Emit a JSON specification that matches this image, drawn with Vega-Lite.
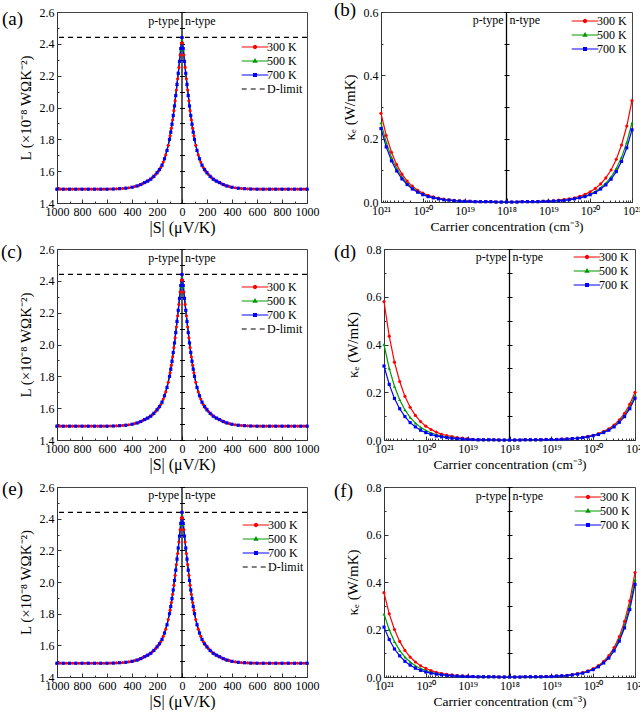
{
"$schema": "https://vega.github.io/schema/vega-lite/v6.json",
"padding": {"left": 0, "top": 0, "right": 0, "bottom": 0},
"config": {
  "font": "Liberation Serif",
  "view": {"stroke": "#444", "strokeWidth": 1},
  "axis": {"labelFont": "Liberation Serif", "labelFontSize": 12, "labelColor": "#000", "titleFont": "Liberation Serif", "titleFontSize": 15, "titleFontWeight": "normal", "titleColor": "#000", "domainColor": "#333", "tickColor": "#333", "grid": false, "labelFlush": false, "labelOverlap": false},
  "legend": {"orient": "none", "title": null, "padding": 0, "labelFont": "Liberation Serif", "labelFontSize": 12, "labelColor": "#000", "symbolSize": 196, "symbolOffset": 6, "labelOffset": 4, "rowPadding": 0, "symbolStrokeWidth": 1.2}
},
"datasets": {
"one": [{}],
"L": [
{"T":"300 K","S":-1000,"L":1.487},{"T":"300 K","S":-975,"L":1.487},{"T":"300 K","S":-925,"L":1.487},{"T":"300 K","S":-875,"L":1.487},{"T":"300 K","S":-825,"L":1.487},{"T":"300 K","S":-775,"L":1.487},{"T":"300 K","S":-725,"L":1.487},{"T":"300 K","S":-675,"L":1.487},{"T":"300 K","S":-625,"L":1.487},{"T":"300 K","S":-575,"L":1.488},{"T":"300 K","S":-525,"L":1.489},{"T":"300 K","S":-475,"L":1.491},{"T":"300 K","S":-425,"L":1.496},{"T":"300 K","S":-380,"L":1.503},{"T":"300 K","S":-345,"L":1.511},{"T":"300 K","S":-315,"L":1.522},{"T":"300 K","S":-287,"L":1.533},{"T":"300 K","S":-262,"L":1.544},{"T":"300 K","S":-237,"L":1.559},{"T":"300 K","S":-212,"L":1.579},{"T":"300 K","S":-190,"L":1.6},{"T":"300 K","S":-170,"L":1.623},{"T":"300 K","S":-150,"L":1.657},{"T":"300 K","S":-130,"L":1.702},{"T":"300 K","S":-110,"L":1.763},{"T":"300 K","S":-95,"L":1.822},{"T":"300 K","S":-85,"L":1.87},{"T":"300 K","S":-75,"L":1.922},{"T":"300 K","S":-65,"L":1.98},{"T":"300 K","S":-55,"L":2.042},{"T":"300 K","S":-45,"L":2.11},{"T":"300 K","S":-35,"L":2.18},{"T":"300 K","S":-25,"L":2.252},{"T":"300 K","S":-15,"L":2.33},{"T":"300 K","S":-5,"L":2.405},{"T":"300 K","S":0,"L":2.44},
{"T":"300 K","S":5,"L":2.405},{"T":"300 K","S":15,"L":2.33},{"T":"300 K","S":25,"L":2.252},{"T":"300 K","S":35,"L":2.18},{"T":"300 K","S":45,"L":2.11},{"T":"300 K","S":55,"L":2.042},{"T":"300 K","S":65,"L":1.98},{"T":"300 K","S":75,"L":1.922},{"T":"300 K","S":85,"L":1.87},{"T":"300 K","S":95,"L":1.822},{"T":"300 K","S":110,"L":1.763},{"T":"300 K","S":130,"L":1.702},{"T":"300 K","S":150,"L":1.657},{"T":"300 K","S":170,"L":1.623},{"T":"300 K","S":190,"L":1.6},{"T":"300 K","S":212,"L":1.579},{"T":"300 K","S":237,"L":1.559},{"T":"300 K","S":262,"L":1.544},{"T":"300 K","S":287,"L":1.533},{"T":"300 K","S":315,"L":1.522},{"T":"300 K","S":345,"L":1.511},{"T":"300 K","S":380,"L":1.503},{"T":"300 K","S":425,"L":1.496},{"T":"300 K","S":475,"L":1.491},{"T":"300 K","S":525,"L":1.489},{"T":"300 K","S":575,"L":1.488},{"T":"300 K","S":625,"L":1.487},{"T":"300 K","S":675,"L":1.487},{"T":"300 K","S":725,"L":1.487},{"T":"300 K","S":775,"L":1.487},{"T":"300 K","S":825,"L":1.487},{"T":"300 K","S":875,"L":1.487},{"T":"300 K","S":925,"L":1.487},{"T":"300 K","S":975,"L":1.487},{"T":"300 K","S":1000,"L":1.487},
{"T":"500 K","S":-1000,"L":1.487},{"T":"500 K","S":-950,"L":1.487},{"T":"500 K","S":-900,"L":1.487},{"T":"500 K","S":-850,"L":1.487},{"T":"500 K","S":-800,"L":1.487},{"T":"500 K","S":-750,"L":1.487},{"T":"500 K","S":-700,"L":1.487},{"T":"500 K","S":-650,"L":1.487},{"T":"500 K","S":-600,"L":1.487},{"T":"500 K","S":-550,"L":1.488},{"T":"500 K","S":-500,"L":1.49},{"T":"500 K","S":-450,"L":1.493},{"T":"500 K","S":-400,"L":1.499},{"T":"500 K","S":-360,"L":1.507},{"T":"500 K","S":-330,"L":1.516},{"T":"500 K","S":-300,"L":1.528},{"T":"500 K","S":-275,"L":1.538},{"T":"500 K","S":-250,"L":1.55},{"T":"500 K","S":-225,"L":1.568},{"T":"500 K","S":-200,"L":1.59},{"T":"500 K","S":-180,"L":1.61},{"T":"500 K","S":-160,"L":1.638},{"T":"500 K","S":-140,"L":1.678},{"T":"500 K","S":-120,"L":1.73},{"T":"500 K","S":-100,"L":1.8},{"T":"500 K","S":-90,"L":1.845},{"T":"500 K","S":-80,"L":1.895},{"T":"500 K","S":-70,"L":1.95},{"T":"500 K","S":-60,"L":2.01},{"T":"500 K","S":-50,"L":2.075},{"T":"500 K","S":-40,"L":2.145},{"T":"500 K","S":-30,"L":2.215},{"T":"500 K","S":-20,"L":2.29},{"T":"500 K","S":-10,"L":2.36},{"T":"500 K","S":0,"L":2.425},
{"T":"500 K","S":10,"L":2.36},{"T":"500 K","S":20,"L":2.29},{"T":"500 K","S":30,"L":2.215},{"T":"500 K","S":40,"L":2.145},{"T":"500 K","S":50,"L":2.075},{"T":"500 K","S":60,"L":2.01},{"T":"500 K","S":70,"L":1.95},{"T":"500 K","S":80,"L":1.895},{"T":"500 K","S":90,"L":1.845},{"T":"500 K","S":100,"L":1.8},{"T":"500 K","S":120,"L":1.73},{"T":"500 K","S":140,"L":1.678},{"T":"500 K","S":160,"L":1.638},{"T":"500 K","S":180,"L":1.61},{"T":"500 K","S":200,"L":1.59},{"T":"500 K","S":225,"L":1.568},{"T":"500 K","S":250,"L":1.55},{"T":"500 K","S":275,"L":1.538},{"T":"500 K","S":300,"L":1.528},{"T":"500 K","S":330,"L":1.516},{"T":"500 K","S":360,"L":1.507},{"T":"500 K","S":400,"L":1.499},{"T":"500 K","S":450,"L":1.493},{"T":"500 K","S":500,"L":1.49},{"T":"500 K","S":550,"L":1.488},{"T":"500 K","S":600,"L":1.487},{"T":"500 K","S":650,"L":1.487},{"T":"500 K","S":700,"L":1.487},{"T":"500 K","S":750,"L":1.487},{"T":"500 K","S":800,"L":1.487},{"T":"500 K","S":850,"L":1.487},{"T":"500 K","S":900,"L":1.487},{"T":"500 K","S":950,"L":1.487},{"T":"500 K","S":1000,"L":1.487},
{"T":"700 K","S":-1000,"L":1.487},{"T":"700 K","S":-950,"L":1.487},{"T":"700 K","S":-900,"L":1.487},{"T":"700 K","S":-850,"L":1.487},{"T":"700 K","S":-800,"L":1.487},{"T":"700 K","S":-750,"L":1.487},{"T":"700 K","S":-700,"L":1.487},{"T":"700 K","S":-650,"L":1.487},{"T":"700 K","S":-600,"L":1.487},{"T":"700 K","S":-550,"L":1.488},{"T":"700 K","S":-500,"L":1.49},{"T":"700 K","S":-450,"L":1.493},{"T":"700 K","S":-400,"L":1.499},{"T":"700 K","S":-360,"L":1.507},{"T":"700 K","S":-330,"L":1.516},{"T":"700 K","S":-300,"L":1.528},{"T":"700 K","S":-275,"L":1.538},{"T":"700 K","S":-250,"L":1.55},{"T":"700 K","S":-225,"L":1.568},{"T":"700 K","S":-200,"L":1.59},{"T":"700 K","S":-180,"L":1.61},{"T":"700 K","S":-160,"L":1.638},{"T":"700 K","S":-140,"L":1.678},{"T":"700 K","S":-120,"L":1.73},{"T":"700 K","S":-100,"L":1.8},{"T":"700 K","S":-90,"L":1.845},{"T":"700 K","S":-80,"L":1.895},{"T":"700 K","S":-70,"L":1.95},{"T":"700 K","S":-60,"L":2.01},{"T":"700 K","S":-50,"L":2.075},{"T":"700 K","S":-40,"L":2.145},{"T":"700 K","S":-30,"L":2.215},{"T":"700 K","S":-20,"L":2.29},{"T":"700 K","S":-10,"L":2.37},{"T":"700 K","S":0,"L":2.44},
{"T":"700 K","S":10,"L":2.37},{"T":"700 K","S":20,"L":2.29},{"T":"700 K","S":30,"L":2.215},{"T":"700 K","S":40,"L":2.145},{"T":"700 K","S":50,"L":2.075},{"T":"700 K","S":60,"L":2.01},{"T":"700 K","S":70,"L":1.95},{"T":"700 K","S":80,"L":1.895},{"T":"700 K","S":90,"L":1.845},{"T":"700 K","S":100,"L":1.8},{"T":"700 K","S":120,"L":1.73},{"T":"700 K","S":140,"L":1.678},{"T":"700 K","S":160,"L":1.638},{"T":"700 K","S":180,"L":1.61},{"T":"700 K","S":200,"L":1.59},{"T":"700 K","S":225,"L":1.568},{"T":"700 K","S":250,"L":1.55},{"T":"700 K","S":275,"L":1.538},{"T":"700 K","S":300,"L":1.528},{"T":"700 K","S":330,"L":1.516},{"T":"700 K","S":360,"L":1.507},{"T":"700 K","S":400,"L":1.499},{"T":"700 K","S":450,"L":1.493},{"T":"700 K","S":500,"L":1.49},{"T":"700 K","S":550,"L":1.488},{"T":"700 K","S":600,"L":1.487},{"T":"700 K","S":650,"L":1.487},{"T":"700 K","S":700,"L":1.487},{"T":"700 K","S":750,"L":1.487},{"T":"700 K","S":800,"L":1.487},{"T":"700 K","S":850,"L":1.487},{"T":"700 K","S":900,"L":1.487},{"T":"700 K","S":950,"L":1.487},{"T":"700 K","S":1000,"L":1.487}
],
"K": [
{"p":"b","T":"300 K","x":-3,"k":0.28},{"p":"b","T":"300 K","x":-2.875,"k":0.21},{"p":"b","T":"300 K","x":-2.75,"k":0.157},{"p":"b","T":"300 K","x":-2.625,"k":0.118},{"p":"b","T":"300 K","x":-2.5,"k":0.088},{"p":"b","T":"300 K","x":-2.375,"k":0.066},{"p":"b","T":"300 K","x":-2.25,"k":0.05},{"p":"b","T":"300 K","x":-2.125,"k":0.037},{"p":"b","T":"300 K","x":-2,"k":0.028},{"p":"b","T":"300 K","x":-1.875,"k":0.021},{"p":"b","T":"300 K","x":-1.75,"k":0.016},{"p":"b","T":"300 K","x":-1.625,"k":0.012},{"p":"b","T":"300 K","x":-1.5,"k":0.009},{"p":"b","T":"300 K","x":-1.375,"k":0.007},{"p":"b","T":"300 K","x":-1.25,"k":0.005},{"p":"b","T":"300 K","x":-1.125,"k":0.004},{"p":"b","T":"300 K","x":-1,"k":0.003},
{"p":"b","T":"300 K","x":-0.875,"k":0.002},{"p":"b","T":"300 K","x":-0.75,"k":0.001},{"p":"b","T":"300 K","x":-0.625,"k":0.001},{"p":"b","T":"300 K","x":-0.5,"k":0.001},{"p":"b","T":"300 K","x":-0.375,"k":0.001},{"p":"b","T":"300 K","x":-0.25,"k":0},{"p":"b","T":"300 K","x":-0.125,"k":0},{"p":"b","T":"300 K","x":0,"k":0},{"p":"b","T":"300 K","x":0.125,"k":0},{"p":"b","T":"300 K","x":0.25,"k":0},{"p":"b","T":"300 K","x":0.375,"k":0.001},{"p":"b","T":"300 K","x":0.5,"k":0.001},{"p":"b","T":"300 K","x":0.625,"k":0.001},{"p":"b","T":"300 K","x":0.75,"k":0.001},{"p":"b","T":"300 K","x":0.875,"k":0.002},
{"p":"b","T":"300 K","x":1,"k":0.003},{"p":"b","T":"300 K","x":1.125,"k":0.004},{"p":"b","T":"300 K","x":1.25,"k":0.006},{"p":"b","T":"300 K","x":1.375,"k":0.008},{"p":"b","T":"300 K","x":1.5,"k":0.01},{"p":"b","T":"300 K","x":1.625,"k":0.013},{"p":"b","T":"300 K","x":1.75,"k":0.018},{"p":"b","T":"300 K","x":1.875,"k":0.024},{"p":"b","T":"300 K","x":2,"k":0.032},{"p":"b","T":"300 K","x":2.125,"k":0.043},{"p":"b","T":"300 K","x":2.25,"k":0.057},{"p":"b","T":"300 K","x":2.375,"k":0.076},{"p":"b","T":"300 K","x":2.5,"k":0.101},{"p":"b","T":"300 K","x":2.625,"k":0.135},{"p":"b","T":"300 K","x":2.75,"k":0.18},{"p":"b","T":"300 K","x":2.875,"k":0.24},{"p":"b","T":"300 K","x":3,"k":0.32},
{"p":"b","T":"500 K","x":-3,"k":0.25},{"p":"b","T":"500 K","x":-2.875,"k":0.188},{"p":"b","T":"500 K","x":-2.75,"k":0.141},{"p":"b","T":"500 K","x":-2.625,"k":0.106},{"p":"b","T":"500 K","x":-2.5,"k":0.079},{"p":"b","T":"500 K","x":-2.375,"k":0.059},{"p":"b","T":"500 K","x":-2.25,"k":0.045},{"p":"b","T":"500 K","x":-2.125,"k":0.033},{"p":"b","T":"500 K","x":-2,"k":0.025},{"p":"b","T":"500 K","x":-1.875,"k":0.019},{"p":"b","T":"500 K","x":-1.75,"k":0.014},{"p":"b","T":"500 K","x":-1.625,"k":0.011},{"p":"b","T":"500 K","x":-1.5,"k":0.008},{"p":"b","T":"500 K","x":-1.375,"k":0.006},{"p":"b","T":"500 K","x":-1.25,"k":0.005},{"p":"b","T":"500 K","x":-1.125,"k":0.003},{"p":"b","T":"500 K","x":-1,"k":0.003},
{"p":"b","T":"500 K","x":-0.875,"k":0.002},{"p":"b","T":"500 K","x":-0.75,"k":0.001},{"p":"b","T":"500 K","x":-0.625,"k":0.001},{"p":"b","T":"500 K","x":-0.5,"k":0.001},{"p":"b","T":"500 K","x":-0.375,"k":0.001},{"p":"b","T":"500 K","x":-0.25,"k":0},{"p":"b","T":"500 K","x":-0.125,"k":0},{"p":"b","T":"500 K","x":0,"k":0},{"p":"b","T":"500 K","x":0.125,"k":0},{"p":"b","T":"500 K","x":0.25,"k":0},{"p":"b","T":"500 K","x":0.375,"k":0.001},{"p":"b","T":"500 K","x":0.5,"k":0.001},{"p":"b","T":"500 K","x":0.625,"k":0.001},{"p":"b","T":"500 K","x":0.75,"k":0.001},{"p":"b","T":"500 K","x":0.875,"k":0.002},
{"p":"b","T":"500 K","x":1,"k":0.003},{"p":"b","T":"500 K","x":1.125,"k":0.003},{"p":"b","T":"500 K","x":1.25,"k":0.005},{"p":"b","T":"500 K","x":1.375,"k":0.006},{"p":"b","T":"500 K","x":1.5,"k":0.008},{"p":"b","T":"500 K","x":1.625,"k":0.011},{"p":"b","T":"500 K","x":1.75,"k":0.014},{"p":"b","T":"500 K","x":1.875,"k":0.019},{"p":"b","T":"500 K","x":2,"k":0.025},{"p":"b","T":"500 K","x":2.125,"k":0.033},{"p":"b","T":"500 K","x":2.25,"k":0.045},{"p":"b","T":"500 K","x":2.375,"k":0.059},{"p":"b","T":"500 K","x":2.5,"k":0.079},{"p":"b","T":"500 K","x":2.625,"k":0.106},{"p":"b","T":"500 K","x":2.75,"k":0.141},{"p":"b","T":"500 K","x":2.875,"k":0.188},{"p":"b","T":"500 K","x":3,"k":0.25},
{"p":"b","T":"700 K","x":-3,"k":0.232},{"p":"b","T":"700 K","x":-2.875,"k":0.174},{"p":"b","T":"700 K","x":-2.75,"k":0.13},{"p":"b","T":"700 K","x":-2.625,"k":0.098},{"p":"b","T":"700 K","x":-2.5,"k":0.073},{"p":"b","T":"700 K","x":-2.375,"k":0.055},{"p":"b","T":"700 K","x":-2.25,"k":0.041},{"p":"b","T":"700 K","x":-2.125,"k":0.031},{"p":"b","T":"700 K","x":-2,"k":0.023},{"p":"b","T":"700 K","x":-1.875,"k":0.017},{"p":"b","T":"700 K","x":-1.75,"k":0.013},{"p":"b","T":"700 K","x":-1.625,"k":0.01},{"p":"b","T":"700 K","x":-1.5,"k":0.007},{"p":"b","T":"700 K","x":-1.375,"k":0.006},{"p":"b","T":"700 K","x":-1.25,"k":0.004},{"p":"b","T":"700 K","x":-1.125,"k":0.003},{"p":"b","T":"700 K","x":-1,"k":0.002},
{"p":"b","T":"700 K","x":-0.875,"k":0.002},{"p":"b","T":"700 K","x":-0.75,"k":0.001},{"p":"b","T":"700 K","x":-0.625,"k":0.001},{"p":"b","T":"700 K","x":-0.5,"k":0.001},{"p":"b","T":"700 K","x":-0.375,"k":0.001},{"p":"b","T":"700 K","x":-0.25,"k":0},{"p":"b","T":"700 K","x":-0.125,"k":0},{"p":"b","T":"700 K","x":0,"k":0},{"p":"b","T":"700 K","x":0.125,"k":0},{"p":"b","T":"700 K","x":0.25,"k":0},{"p":"b","T":"700 K","x":0.375,"k":0.001},{"p":"b","T":"700 K","x":0.5,"k":0.001},{"p":"b","T":"700 K","x":0.625,"k":0.001},{"p":"b","T":"700 K","x":0.75,"k":0.001},{"p":"b","T":"700 K","x":0.875,"k":0.002},
{"p":"b","T":"700 K","x":1,"k":0.002},{"p":"b","T":"700 K","x":1.125,"k":0.003},{"p":"b","T":"700 K","x":1.25,"k":0.004},{"p":"b","T":"700 K","x":1.375,"k":0.005},{"p":"b","T":"700 K","x":1.5,"k":0.007},{"p":"b","T":"700 K","x":1.625,"k":0.01},{"p":"b","T":"700 K","x":1.75,"k":0.013},{"p":"b","T":"700 K","x":1.875,"k":0.017},{"p":"b","T":"700 K","x":2,"k":0.023},{"p":"b","T":"700 K","x":2.125,"k":0.03},{"p":"b","T":"700 K","x":2.25,"k":0.041},{"p":"b","T":"700 K","x":2.375,"k":0.054},{"p":"b","T":"700 K","x":2.5,"k":0.072},{"p":"b","T":"700 K","x":2.625,"k":0.096},{"p":"b","T":"700 K","x":2.75,"k":0.128},{"p":"b","T":"700 K","x":2.875,"k":0.171},{"p":"b","T":"700 K","x":3,"k":0.228},
{"p":"d","T":"300 K","x":-3,"k":0.58},{"p":"d","T":"300 K","x":-2.875,"k":0.435},{"p":"d","T":"300 K","x":-2.75,"k":0.326},{"p":"d","T":"300 K","x":-2.625,"k":0.245},{"p":"d","T":"300 K","x":-2.5,"k":0.183},{"p":"d","T":"300 K","x":-2.375,"k":0.137},{"p":"d","T":"300 K","x":-2.25,"k":0.103},{"p":"d","T":"300 K","x":-2.125,"k":0.077},{"p":"d","T":"300 K","x":-2,"k":0.058},{"p":"d","T":"300 K","x":-1.875,"k":0.044},{"p":"d","T":"300 K","x":-1.75,"k":0.033},{"p":"d","T":"300 K","x":-1.625,"k":0.024},{"p":"d","T":"300 K","x":-1.5,"k":0.019},{"p":"d","T":"300 K","x":-1.375,"k":0.014},{"p":"d","T":"300 K","x":-1.25,"k":0.01},{"p":"d","T":"300 K","x":-1.125,"k":0.008},{"p":"d","T":"300 K","x":-1,"k":0.006},
{"p":"d","T":"300 K","x":-0.875,"k":0.002},{"p":"d","T":"300 K","x":-0.75,"k":0.001},{"p":"d","T":"300 K","x":-0.625,"k":0.001},{"p":"d","T":"300 K","x":-0.5,"k":0.001},{"p":"d","T":"300 K","x":-0.375,"k":0.001},{"p":"d","T":"300 K","x":-0.25,"k":0},{"p":"d","T":"300 K","x":-0.125,"k":0},{"p":"d","T":"300 K","x":0,"k":0},{"p":"d","T":"300 K","x":0.125,"k":0},{"p":"d","T":"300 K","x":0.25,"k":0},{"p":"d","T":"300 K","x":0.375,"k":0.001},{"p":"d","T":"300 K","x":0.5,"k":0.001},{"p":"d","T":"300 K","x":0.625,"k":0.001},{"p":"d","T":"300 K","x":0.75,"k":0.001},{"p":"d","T":"300 K","x":0.875,"k":0.002},
{"p":"d","T":"300 K","x":1,"k":0.002},{"p":"d","T":"300 K","x":1.125,"k":0.003},{"p":"d","T":"300 K","x":1.25,"k":0.004},{"p":"d","T":"300 K","x":1.375,"k":0.005},{"p":"d","T":"300 K","x":1.5,"k":0.006},{"p":"d","T":"300 K","x":1.625,"k":0.008},{"p":"d","T":"300 K","x":1.75,"k":0.011},{"p":"d","T":"300 K","x":1.875,"k":0.015},{"p":"d","T":"300 K","x":2,"k":0.02},{"p":"d","T":"300 K","x":2.125,"k":0.027},{"p":"d","T":"300 K","x":2.25,"k":0.036},{"p":"d","T":"300 K","x":2.375,"k":0.047},{"p":"d","T":"300 K","x":2.5,"k":0.063},{"p":"d","T":"300 K","x":2.625,"k":0.084},{"p":"d","T":"300 K","x":2.75,"k":0.112},{"p":"d","T":"300 K","x":2.875,"k":0.15},{"p":"d","T":"300 K","x":3,"k":0.2},
{"p":"d","T":"500 K","x":-3,"k":0.4},{"p":"d","T":"500 K","x":-2.875,"k":0.3},{"p":"d","T":"500 K","x":-2.75,"k":0.225},{"p":"d","T":"500 K","x":-2.625,"k":0.169},{"p":"d","T":"500 K","x":-2.5,"k":0.126},{"p":"d","T":"500 K","x":-2.375,"k":0.095},{"p":"d","T":"500 K","x":-2.25,"k":0.071},{"p":"d","T":"500 K","x":-2.125,"k":0.053},{"p":"d","T":"500 K","x":-2,"k":0.04},{"p":"d","T":"500 K","x":-1.875,"k":0.03},{"p":"d","T":"500 K","x":-1.75,"k":0.022},{"p":"d","T":"500 K","x":-1.625,"k":0.017},{"p":"d","T":"500 K","x":-1.5,"k":0.013},{"p":"d","T":"500 K","x":-1.375,"k":0.01},{"p":"d","T":"500 K","x":-1.25,"k":0.007},{"p":"d","T":"500 K","x":-1.125,"k":0.005},{"p":"d","T":"500 K","x":-1,"k":0.004},
{"p":"d","T":"500 K","x":-0.875,"k":0.002},{"p":"d","T":"500 K","x":-0.75,"k":0.001},{"p":"d","T":"500 K","x":-0.625,"k":0.001},{"p":"d","T":"500 K","x":-0.5,"k":0.001},{"p":"d","T":"500 K","x":-0.375,"k":0.001},{"p":"d","T":"500 K","x":-0.25,"k":0},{"p":"d","T":"500 K","x":-0.125,"k":0},{"p":"d","T":"500 K","x":0,"k":0},{"p":"d","T":"500 K","x":0.125,"k":0},{"p":"d","T":"500 K","x":0.25,"k":0},{"p":"d","T":"500 K","x":0.375,"k":0.001},{"p":"d","T":"500 K","x":0.5,"k":0.001},{"p":"d","T":"500 K","x":0.625,"k":0.001},{"p":"d","T":"500 K","x":0.75,"k":0.001},{"p":"d","T":"500 K","x":0.875,"k":0.002},
{"p":"d","T":"500 K","x":1,"k":0.002},{"p":"d","T":"500 K","x":1.125,"k":0.002},{"p":"d","T":"500 K","x":1.25,"k":0.003},{"p":"d","T":"500 K","x":1.375,"k":0.004},{"p":"d","T":"500 K","x":1.5,"k":0.006},{"p":"d","T":"500 K","x":1.625,"k":0.008},{"p":"d","T":"500 K","x":1.75,"k":0.01},{"p":"d","T":"500 K","x":1.875,"k":0.014},{"p":"d","T":"500 K","x":2,"k":0.019},{"p":"d","T":"500 K","x":2.125,"k":0.025},{"p":"d","T":"500 K","x":2.25,"k":0.033},{"p":"d","T":"500 K","x":2.375,"k":0.044},{"p":"d","T":"500 K","x":2.5,"k":0.058},{"p":"d","T":"500 K","x":2.625,"k":0.078},{"p":"d","T":"500 K","x":2.75,"k":0.104},{"p":"d","T":"500 K","x":2.875,"k":0.139},{"p":"d","T":"500 K","x":3,"k":0.185},
{"p":"d","T":"700 K","x":-3,"k":0.31},{"p":"d","T":"700 K","x":-2.875,"k":0.233},{"p":"d","T":"700 K","x":-2.75,"k":0.174},{"p":"d","T":"700 K","x":-2.625,"k":0.131},{"p":"d","T":"700 K","x":-2.5,"k":0.098},{"p":"d","T":"700 K","x":-2.375,"k":0.073},{"p":"d","T":"700 K","x":-2.25,"k":0.055},{"p":"d","T":"700 K","x":-2.125,"k":0.041},{"p":"d","T":"700 K","x":-2,"k":0.031},{"p":"d","T":"700 K","x":-1.875,"k":0.023},{"p":"d","T":"700 K","x":-1.75,"k":0.017},{"p":"d","T":"700 K","x":-1.625,"k":0.013},{"p":"d","T":"700 K","x":-1.5,"k":0.01},{"p":"d","T":"700 K","x":-1.375,"k":0.007},{"p":"d","T":"700 K","x":-1.25,"k":0.006},{"p":"d","T":"700 K","x":-1.125,"k":0.004},{"p":"d","T":"700 K","x":-1,"k":0.003},
{"p":"d","T":"700 K","x":-0.875,"k":0.002},{"p":"d","T":"700 K","x":-0.75,"k":0.001},{"p":"d","T":"700 K","x":-0.625,"k":0.001},{"p":"d","T":"700 K","x":-0.5,"k":0.001},{"p":"d","T":"700 K","x":-0.375,"k":0.001},{"p":"d","T":"700 K","x":-0.25,"k":0},{"p":"d","T":"700 K","x":-0.125,"k":0},{"p":"d","T":"700 K","x":0,"k":0},{"p":"d","T":"700 K","x":0.125,"k":0},{"p":"d","T":"700 K","x":0.25,"k":0},{"p":"d","T":"700 K","x":0.375,"k":0.001},{"p":"d","T":"700 K","x":0.5,"k":0.001},{"p":"d","T":"700 K","x":0.625,"k":0.001},{"p":"d","T":"700 K","x":0.75,"k":0.001},{"p":"d","T":"700 K","x":0.875,"k":0.002},
{"p":"d","T":"700 K","x":1,"k":0.002},{"p":"d","T":"700 K","x":1.125,"k":0.002},{"p":"d","T":"700 K","x":1.25,"k":0.003},{"p":"d","T":"700 K","x":1.375,"k":0.004},{"p":"d","T":"700 K","x":1.5,"k":0.006},{"p":"d","T":"700 K","x":1.625,"k":0.007},{"p":"d","T":"700 K","x":1.75,"k":0.01},{"p":"d","T":"700 K","x":1.875,"k":0.013},{"p":"d","T":"700 K","x":2,"k":0.018},{"p":"d","T":"700 K","x":2.125,"k":0.023},{"p":"d","T":"700 K","x":2.25,"k":0.031},{"p":"d","T":"700 K","x":2.375,"k":0.041},{"p":"d","T":"700 K","x":2.5,"k":0.055},{"p":"d","T":"700 K","x":2.625,"k":0.074},{"p":"d","T":"700 K","x":2.75,"k":0.098},{"p":"d","T":"700 K","x":2.875,"k":0.131},{"p":"d","T":"700 K","x":3,"k":0.175},
{"p":"f","T":"300 K","x":-3,"k":0.355},{"p":"f","T":"300 K","x":-2.875,"k":0.266},{"p":"f","T":"300 K","x":-2.75,"k":0.2},{"p":"f","T":"300 K","x":-2.625,"k":0.15},{"p":"f","T":"300 K","x":-2.5,"k":0.112},{"p":"f","T":"300 K","x":-2.375,"k":0.084},{"p":"f","T":"300 K","x":-2.25,"k":0.063},{"p":"f","T":"300 K","x":-2.125,"k":0.047},{"p":"f","T":"300 K","x":-2,"k":0.036},{"p":"f","T":"300 K","x":-1.875,"k":0.027},{"p":"f","T":"300 K","x":-1.75,"k":0.02},{"p":"f","T":"300 K","x":-1.625,"k":0.015},{"p":"f","T":"300 K","x":-1.5,"k":0.011},{"p":"f","T":"300 K","x":-1.375,"k":0.009},{"p":"f","T":"300 K","x":-1.25,"k":0.006},{"p":"f","T":"300 K","x":-1.125,"k":0.005},{"p":"f","T":"300 K","x":-1,"k":0.004},
{"p":"f","T":"300 K","x":-0.875,"k":0.002},{"p":"f","T":"300 K","x":-0.75,"k":0.001},{"p":"f","T":"300 K","x":-0.625,"k":0.001},{"p":"f","T":"300 K","x":-0.5,"k":0.001},{"p":"f","T":"300 K","x":-0.375,"k":0.001},{"p":"f","T":"300 K","x":-0.25,"k":0},{"p":"f","T":"300 K","x":-0.125,"k":0},{"p":"f","T":"300 K","x":0,"k":0},{"p":"f","T":"300 K","x":0.125,"k":0},{"p":"f","T":"300 K","x":0.25,"k":0},{"p":"f","T":"300 K","x":0.375,"k":0.001},{"p":"f","T":"300 K","x":0.5,"k":0.001},{"p":"f","T":"300 K","x":0.625,"k":0.001},{"p":"f","T":"300 K","x":0.75,"k":0.001},{"p":"f","T":"300 K","x":0.875,"k":0.002},
{"p":"f","T":"300 K","x":1,"k":0.003},{"p":"f","T":"300 K","x":1.125,"k":0.004},{"p":"f","T":"300 K","x":1.25,"k":0.005},{"p":"f","T":"300 K","x":1.375,"k":0.007},{"p":"f","T":"300 K","x":1.5,"k":0.01},{"p":"f","T":"300 K","x":1.625,"k":0.014},{"p":"f","T":"300 K","x":1.75,"k":0.019},{"p":"f","T":"300 K","x":1.875,"k":0.026},{"p":"f","T":"300 K","x":2,"k":0.035},{"p":"f","T":"300 K","x":2.125,"k":0.048},{"p":"f","T":"300 K","x":2.25,"k":0.066},{"p":"f","T":"300 K","x":2.375,"k":0.09},{"p":"f","T":"300 K","x":2.5,"k":0.124},{"p":"f","T":"300 K","x":2.625,"k":0.17},{"p":"f","T":"300 K","x":2.75,"k":0.234},{"p":"f","T":"300 K","x":2.875,"k":0.321},{"p":"f","T":"300 K","x":3,"k":0.44},
{"p":"f","T":"500 K","x":-3,"k":0.265},{"p":"f","T":"500 K","x":-2.875,"k":0.199},{"p":"f","T":"500 K","x":-2.75,"k":0.149},{"p":"f","T":"500 K","x":-2.625,"k":0.112},{"p":"f","T":"500 K","x":-2.5,"k":0.084},{"p":"f","T":"500 K","x":-2.375,"k":0.063},{"p":"f","T":"500 K","x":-2.25,"k":0.047},{"p":"f","T":"500 K","x":-2.125,"k":0.035},{"p":"f","T":"500 K","x":-2,"k":0.027},{"p":"f","T":"500 K","x":-1.875,"k":0.02},{"p":"f","T":"500 K","x":-1.75,"k":0.015},{"p":"f","T":"500 K","x":-1.625,"k":0.011},{"p":"f","T":"500 K","x":-1.5,"k":0.008},{"p":"f","T":"500 K","x":-1.375,"k":0.006},{"p":"f","T":"500 K","x":-1.25,"k":0.005},{"p":"f","T":"500 K","x":-1.125,"k":0.003},{"p":"f","T":"500 K","x":-1,"k":0.003},
{"p":"f","T":"500 K","x":-0.875,"k":0.002},{"p":"f","T":"500 K","x":-0.75,"k":0.001},{"p":"f","T":"500 K","x":-0.625,"k":0.001},{"p":"f","T":"500 K","x":-0.5,"k":0.001},{"p":"f","T":"500 K","x":-0.375,"k":0.001},{"p":"f","T":"500 K","x":-0.25,"k":0},{"p":"f","T":"500 K","x":-0.125,"k":0},{"p":"f","T":"500 K","x":0,"k":0},{"p":"f","T":"500 K","x":0.125,"k":0},{"p":"f","T":"500 K","x":0.25,"k":0},{"p":"f","T":"500 K","x":0.375,"k":0.001},{"p":"f","T":"500 K","x":0.5,"k":0.001},{"p":"f","T":"500 K","x":0.625,"k":0.001},{"p":"f","T":"500 K","x":0.75,"k":0.001},{"p":"f","T":"500 K","x":0.875,"k":0.002},
{"p":"f","T":"500 K","x":1,"k":0.002},{"p":"f","T":"500 K","x":1.125,"k":0.004},{"p":"f","T":"500 K","x":1.25,"k":0.005},{"p":"f","T":"500 K","x":1.375,"k":0.007},{"p":"f","T":"500 K","x":1.5,"k":0.009},{"p":"f","T":"500 K","x":1.625,"k":0.013},{"p":"f","T":"500 K","x":1.75,"k":0.017},{"p":"f","T":"500 K","x":1.875,"k":0.024},{"p":"f","T":"500 K","x":2,"k":0.032},{"p":"f","T":"500 K","x":2.125,"k":0.045},{"p":"f","T":"500 K","x":2.25,"k":0.062},{"p":"f","T":"500 K","x":2.375,"k":0.084},{"p":"f","T":"500 K","x":2.5,"k":0.116},{"p":"f","T":"500 K","x":2.625,"k":0.159},{"p":"f","T":"500 K","x":2.75,"k":0.218},{"p":"f","T":"500 K","x":2.875,"k":0.299},{"p":"f","T":"500 K","x":3,"k":0.41},
{"p":"f","T":"700 K","x":-3,"k":0.21},{"p":"f","T":"700 K","x":-2.875,"k":0.158},{"p":"f","T":"700 K","x":-2.75,"k":0.118},{"p":"f","T":"700 K","x":-2.625,"k":0.089},{"p":"f","T":"700 K","x":-2.5,"k":0.066},{"p":"f","T":"700 K","x":-2.375,"k":0.05},{"p":"f","T":"700 K","x":-2.25,"k":0.037},{"p":"f","T":"700 K","x":-2.125,"k":0.028},{"p":"f","T":"700 K","x":-2,"k":0.021},{"p":"f","T":"700 K","x":-1.875,"k":0.016},{"p":"f","T":"700 K","x":-1.75,"k":0.012},{"p":"f","T":"700 K","x":-1.625,"k":0.009},{"p":"f","T":"700 K","x":-1.5,"k":0.007},{"p":"f","T":"700 K","x":-1.375,"k":0.005},{"p":"f","T":"700 K","x":-1.25,"k":0.004},{"p":"f","T":"700 K","x":-1.125,"k":0.003},{"p":"f","T":"700 K","x":-1,"k":0.002},
{"p":"f","T":"700 K","x":-0.875,"k":0.002},{"p":"f","T":"700 K","x":-0.75,"k":0.001},{"p":"f","T":"700 K","x":-0.625,"k":0.001},{"p":"f","T":"700 K","x":-0.5,"k":0.001},{"p":"f","T":"700 K","x":-0.375,"k":0.001},{"p":"f","T":"700 K","x":-0.25,"k":0},{"p":"f","T":"700 K","x":-0.125,"k":0},{"p":"f","T":"700 K","x":0,"k":0},{"p":"f","T":"700 K","x":0.125,"k":0},{"p":"f","T":"700 K","x":0.25,"k":0},{"p":"f","T":"700 K","x":0.375,"k":0.001},{"p":"f","T":"700 K","x":0.5,"k":0.001},{"p":"f","T":"700 K","x":0.625,"k":0.001},{"p":"f","T":"700 K","x":0.75,"k":0.001},{"p":"f","T":"700 K","x":0.875,"k":0.002},
{"p":"f","T":"700 K","x":1,"k":0.002},{"p":"f","T":"700 K","x":1.125,"k":0.004},{"p":"f","T":"700 K","x":1.25,"k":0.005},{"p":"f","T":"700 K","x":1.375,"k":0.006},{"p":"f","T":"700 K","x":1.5,"k":0.009},{"p":"f","T":"700 K","x":1.625,"k":0.012},{"p":"f","T":"700 K","x":1.75,"k":0.016},{"p":"f","T":"700 K","x":1.875,"k":0.023},{"p":"f","T":"700 K","x":2,"k":0.031},{"p":"f","T":"700 K","x":2.125,"k":0.043},{"p":"f","T":"700 K","x":2.25,"k":0.059},{"p":"f","T":"700 K","x":2.375,"k":0.08},{"p":"f","T":"700 K","x":2.5,"k":0.11},{"p":"f","T":"700 K","x":2.625,"k":0.151},{"p":"f","T":"700 K","x":2.75,"k":0.207},{"p":"f","T":"700 K","x":2.875,"k":0.284},{"p":"f","T":"700 K","x":3,"k":0.39}
]
},
"spacing": 6,
"resolve": {"scale": {"color": "independent"}, "legend": {"color": "independent"}},
"vconcat": [
{"spacing": 13, "resolve": {"scale": {"color": "independent"}, "legend": {"color": "independent"}},
 "hconcat": [
  {"width": 250, "height": 191,
   "layer": [
    {"data": {"name": "one"}, "mark": {"type": "rule", "color": "#000", "strokeWidth": 1.3}, "encoding": {"x": {"datum": 0, "scale": {"domain": [-1000, 1000], "nice": false, "zero": false}, "axis": null}}},
    {"data": {"name": "one"}, "mark": {"type": "rule", "strokeWidth": 1.2, "strokeDash": [5, 4]}, "encoding": {"y": {"datum": 2.44, "scale": {"domain": [1.4, 2.6], "nice": false, "zero": false}, "axis": null}, "color": {"datum": "D-limit"}}},
    {"data": {"name": "L"}, "mark": {"type": "line", "strokeWidth": 1.2},
     "encoding": {
      "x": {"field": "S", "type": "quantitative", "scale": {"domain": [-1000, 1000], "nice": false, "zero": false}, "axis": {"orient": "bottom", "values": [-1000,-800,-600,-400,-200,0,200,400,600,800,1000], "labelExpr": "'' + abs(datum.value)", "labelOverlap": false, "tickSize": -4, "labelPadding": 7, "title": "|S| (μV/K)", "titleFontSize": 16, "titlePadding": 2}},
      "y": {"field": "L", "type": "quantitative", "scale": {"domain": [1.4, 2.6], "nice": false, "zero": false}, "axis": {"values": [1.4,1.5,1.6,1.7,1.8,1.9,2.0,2.1,2.2,2.3,2.4,2.5,2.6], "labelExpr": "round(datum.value*10) % 2 == 0 ? format(datum.value, '.1f') : ''", "labelOverlap": false, "tickSize": {"condition": {"test": "round(datum.value*10) % 2 == 0", "value": -4}, "value": -2}, "labelPadding": 7, "title": "L (×10⁻⁸ WΩK⁻²)", "titlePadding": 6}},
      "color": {"field": "T", "type": "nominal", "scale": {"domain": ["300 K", "500 K", "700 K", "D-limit"], "range": ["#ff0000", "#009a00", "#0000ff", "#000000"]},
       "legend": {"legendX": 184, "legendY": 27, "labelOffset": 4, "encode": {"symbols": {"update": {"shape": {"signal": "datum.value == '300 K' ? 'M-1.9,0H1.9M-0.22,0A0.22,0.22,0,1,1,0.22,0A0.22,0.22,0,1,1,-0.22,0Z' : datum.value == '500 K' ? 'M-1.9,0H1.9M0,-0.27L0.24,0.16L-0.24,0.16Z' : datum.value == '700 K' ? 'M-1.9,0H1.9M-0.2,-0.2H0.2V0.2H-0.2Z' : 'M-1.9,0H1.9'"}, "stroke": {"signal": "datum.value == '300 K' ? '#ff0000' : datum.value == '500 K' ? '#009a00' : datum.value == '700 K' ? '#0000ff' : '#000000'"}, "fill": {"signal": "datum.value == '300 K' ? '#ff0000' : datum.value == '500 K' ? '#009a00' : datum.value == '700 K' ? '#0000ff' : '#000000'"}, "strokeDash": {"signal": "datum.value == 'D-limit' ? [5,4] : [1,0]"}, "strokeWidth": {"value": 1.2}, "opacity": {"value": 1}}}}}}
     }},
    {"data": {"name": "L"}, "mark": {"type": "point", "filled": true, "size": 10, "opacity": 1},
     "encoding": {
      "x": {"field": "S", "type": "quantitative", "scale": {"domain": [-1000, 1000], "nice": false, "zero": false}, "axis": {"orient": "bottom", "values": [-900,-700,-500,-300,-100,100,300,500,700,900], "labels": false, "domain": false, "tickSize": -2, "title": null}},
      "y": {"field": "L", "type": "quantitative", "scale": {"domain": [1.4, 2.6], "nice": false, "zero": false}, "axis": {"orient": "right", "offset": -127.5, "values": [1.4,1.5,1.6,1.7,1.8,1.9,2.0,2.1,2.2,2.3,2.4,2.5,2.6], "labels": false, "domain": false, "tickSize": 5, "tickColor": "#000", "tickWidth": 1, "title": null}},
      "color": {"field": "T", "type": "nominal"},
      "shape": {"field": "T", "type": "nominal", "scale": {"domain": ["300 K", "500 K", "700 K"], "range": ["circle", "triangle-up", "square"]}, "legend": null}
     }},
    {"data": {"name": "one"}, "mark": {"type": "text", "text": "p-type", "align": "right", "baseline": "middle", "dx": -3, "fontSize": 12, "font": "Liberation Serif", "color": "#000"}, "encoding": {"x": {"datum": 0, "scale": {"domain": [-1000, 1000], "nice": false, "zero": false}, "axis": null}, "y": {"datum": 2.543, "scale": {"domain": [1.4, 2.6], "nice": false, "zero": false}, "axis": null}}},
    {"data": {"name": "one"}, "mark": {"type": "text", "text": "n-type", "align": "left", "baseline": "middle", "dx": 3, "fontSize": 12, "font": "Liberation Serif", "color": "#000"}, "encoding": {"x": {"datum": 0, "scale": {"domain": [-1000, 1000], "nice": false, "zero": false}, "axis": null}, "y": {"datum": 2.543, "scale": {"domain": [1.4, 2.6], "nice": false, "zero": false}, "axis": null}}},
    {"data": {"name": "one"}, "mark": {"type": "text", "text": "(a)", "align": "left", "baseline": "middle", "dx": -55, "dy": 7, "fontSize": 19, "font": "Liberation Serif", "color": "#000"}, "encoding": {"x": {"datum": -1000, "scale": {"domain": [-1000, 1000], "nice": false, "zero": false}, "axis": null}, "y": {"datum": 2.6, "scale": {"domain": [1.4, 2.6], "nice": false, "zero": false}, "axis": null}}}
   ],
   "resolve": {"axis": {"x": "independent", "y": "independent"}}
  },
  {"width": 251, "height": 190,
   "layer": [
    {"data": {"name": "one"}, "mark": {"type": "rule", "color": "#000", "strokeWidth": 1.3}, "encoding": {"x": {"datum": 0, "scale": {"domain": [-3, 3], "nice": false, "zero": false}, "axis": null}}},
    {"data": {"name": "K"}, "transform": [{"filter": "datum.p == 'b'"}], "mark": {"type": "line", "strokeWidth": 1.2},
     "encoding": {
      "x": {"field": "x", "type": "quantitative", "scale": {"domain": [-3, 3], "nice": false, "zero": false}, "axis": {"orient": "bottom", "values": [-3,-2,-1,0,1,2,3], "labelExpr": "'10' + (abs(datum.value) == 3 ? '²¹' : abs(datum.value) == 2 ? '²⁰' : abs(datum.value) == 1 ? '¹⁹' : '¹⁸')", "labelOverlap": false, "tickSize": -4, "labelPadding": 7, "title": "Carrier concentration (cm⁻³)", "titleFontSize": 13.5, "titlePadding": 3}},
      "y": {"field": "k", "type": "quantitative", "scale": {"domain": [0, 0.6], "nice": false}, "axis": {"values": [0,0.1,0.2,0.3,0.4,0.5,0.6], "labelExpr": "round(datum.value*10) % 2 == 0 ? format(datum.value, '.1f') : ''", "labelOverlap": false, "tickSize": {"condition": {"test": "round(datum.value*10) % 2 == 0", "value": -4}, "value": -2}, "labelPadding": 7, "title": "κₑ (W/mK)", "titlePadding": 6}},
      "color": {"field": "T", "type": "nominal", "scale": {"domain": ["300 K", "500 K", "700 K"], "range": ["#ff0000", "#009a00", "#0000ff"]},
       "legend": {"legendX": 190, "legendY": 1, "labelOffset": 4, "encode": {"symbols": {"update": {"shape": {"signal": "datum.value == '300 K' ? 'M-1.9,0H1.9M-0.22,0A0.22,0.22,0,1,1,0.22,0A0.22,0.22,0,1,1,-0.22,0Z' : datum.value == '500 K' ? 'M-1.9,0H1.9M0,-0.27L0.24,0.16L-0.24,0.16Z' : 'M-1.9,0H1.9M-0.2,-0.2H0.2V0.2H-0.2Z'"}, "stroke": {"signal": "datum.value == '300 K' ? '#ff0000' : datum.value == '500 K' ? '#009a00' : '#0000ff'"}, "fill": {"signal": "datum.value == '300 K' ? '#ff0000' : datum.value == '500 K' ? '#009a00' : '#0000ff'"}, "strokeWidth": {"value": 1.2}, "opacity": {"value": 1}}}}}}
     }},
    {"data": {"name": "K"}, "transform": [{"filter": "datum.p == 'b'"}], "mark": {"type": "point", "filled": true, "size": 10, "opacity": 1},
     "encoding": {
      "x": {"field": "x", "type": "quantitative", "scale": {"domain": [-3, 3], "nice": false, "zero": false}, "axis": {"orient": "bottom", "values": [-2.954,-2.903,-2.845,-2.778,-2.699,-2.602,-2.477,-2.301,-1.954,-1.903,-1.845,-1.778,-1.699,-1.602,-1.477,-1.301,-0.954,-0.903,-0.845,-0.778,-0.699,-0.602,-0.477,-0.301,0.301,0.477,0.602,0.699,0.778,0.845,0.903,0.954,1.301,1.477,1.602,1.699,1.778,1.845,1.903,1.954,2.301,2.477,2.602,2.699,2.778,2.845,2.903,2.954], "labels": false, "domain": false, "tickSize": -2, "title": null}},
      "y": {"field": "k", "type": "quantitative", "scale": {"domain": [0, 0.6], "nice": false}, "axis": {"orient": "right", "offset": -128, "values": [0,0.1,0.2,0.3,0.4,0.5,0.6], "labels": false, "domain": false, "tickSize": 5, "tickColor": "#000", "tickWidth": 1, "title": null}},
      "color": {"field": "T", "type": "nominal"},
      "shape": {"field": "T", "type": "nominal", "scale": {"domain": ["300 K", "500 K", "700 K"], "range": ["circle", "triangle-up", "square"]}, "legend": null}
     }},
    {"data": {"name": "one"}, "mark": {"type": "text", "text": "p-type", "align": "right", "baseline": "middle", "dx": -3, "fontSize": 12, "font": "Liberation Serif", "color": "#000"}, "encoding": {"x": {"datum": 0, "scale": {"domain": [-3, 3], "nice": false, "zero": false}, "axis": null}, "y": {"datum": 0.575, "scale": {"domain": [0, 0.6], "nice": false}, "axis": null}}},
    {"data": {"name": "one"}, "mark": {"type": "text", "text": "n-type", "align": "left", "baseline": "middle", "dx": 3, "fontSize": 12, "font": "Liberation Serif", "color": "#000"}, "encoding": {"x": {"datum": 0, "scale": {"domain": [-3, 3], "nice": false, "zero": false}, "axis": null}, "y": {"datum": 0.575, "scale": {"domain": [0, 0.6], "nice": false}, "axis": null}}},
    {"data": {"name": "one"}, "mark": {"type": "text", "text": "(b)", "align": "left", "baseline": "middle", "dx": -47, "dy": -2.5, "fontSize": 19, "font": "Liberation Serif", "color": "#000"}, "encoding": {"x": {"datum": -3, "scale": {"domain": [-3, 3], "nice": false, "zero": false}, "axis": null}, "y": {"datum": 0.6, "scale": {"domain": [0, 0.6], "nice": false}, "axis": null}}}
   ],
   "resolve": {"axis": {"x": "independent", "y": "independent"}}
  }
 ]},
{"spacing": 13, "resolve": {"scale": {"color": "independent"}, "legend": {"color": "independent"}},
 "hconcat": [
  {"width": 250, "height": 191,
   "layer": [
    {"data": {"name": "one"}, "mark": {"type": "rule", "color": "#000", "strokeWidth": 1.3}, "encoding": {"x": {"datum": 0, "scale": {"domain": [-1000, 1000], "nice": false, "zero": false}, "axis": null}}},
    {"data": {"name": "one"}, "mark": {"type": "rule", "strokeWidth": 1.2, "strokeDash": [5, 4]}, "encoding": {"y": {"datum": 2.44, "scale": {"domain": [1.4, 2.6], "nice": false, "zero": false}, "axis": null}, "color": {"datum": "D-limit"}}},
    {"data": {"name": "L"}, "mark": {"type": "line", "strokeWidth": 1.2},
     "encoding": {
      "x": {"field": "S", "type": "quantitative", "scale": {"domain": [-1000, 1000], "nice": false, "zero": false}, "axis": {"orient": "bottom", "values": [-1000,-800,-600,-400,-200,0,200,400,600,800,1000], "labelExpr": "'' + abs(datum.value)", "labelOverlap": false, "tickSize": -4, "labelPadding": 7, "title": "|S| (μV/K)", "titleFontSize": 16, "titlePadding": 2}},
      "y": {"field": "L", "type": "quantitative", "scale": {"domain": [1.4, 2.6], "nice": false, "zero": false}, "axis": {"values": [1.4,1.5,1.6,1.7,1.8,1.9,2.0,2.1,2.2,2.3,2.4,2.5,2.6], "labelExpr": "round(datum.value*10) % 2 == 0 ? format(datum.value, '.1f') : ''", "labelOverlap": false, "tickSize": {"condition": {"test": "round(datum.value*10) % 2 == 0", "value": -4}, "value": -2}, "labelPadding": 7, "title": "L (×10⁻⁸ WΩK⁻²)", "titlePadding": 6}},
      "color": {"field": "T", "type": "nominal", "scale": {"domain": ["300 K", "500 K", "700 K", "D-limit"], "range": ["#ff0000", "#009a00", "#0000ff", "#000000"]},
       "legend": {"legendX": 184, "legendY": 30, "labelOffset": 4, "encode": {"symbols": {"update": {"shape": {"signal": "datum.value == '300 K' ? 'M-1.9,0H1.9M-0.22,0A0.22,0.22,0,1,1,0.22,0A0.22,0.22,0,1,1,-0.22,0Z' : datum.value == '500 K' ? 'M-1.9,0H1.9M0,-0.27L0.24,0.16L-0.24,0.16Z' : datum.value == '700 K' ? 'M-1.9,0H1.9M-0.2,-0.2H0.2V0.2H-0.2Z' : 'M-1.9,0H1.9'"}, "stroke": {"signal": "datum.value == '300 K' ? '#ff0000' : datum.value == '500 K' ? '#009a00' : datum.value == '700 K' ? '#0000ff' : '#000000'"}, "fill": {"signal": "datum.value == '300 K' ? '#ff0000' : datum.value == '500 K' ? '#009a00' : datum.value == '700 K' ? '#0000ff' : '#000000'"}, "strokeDash": {"signal": "datum.value == 'D-limit' ? [5,4] : [1,0]"}, "strokeWidth": {"value": 1.2}, "opacity": {"value": 1}}}}}}
     }},
    {"data": {"name": "L"}, "mark": {"type": "point", "filled": true, "size": 10, "opacity": 1},
     "encoding": {
      "x": {"field": "S", "type": "quantitative", "scale": {"domain": [-1000, 1000], "nice": false, "zero": false}, "axis": {"orient": "bottom", "values": [-900,-700,-500,-300,-100,100,300,500,700,900], "labels": false, "domain": false, "tickSize": -2, "title": null}},
      "y": {"field": "L", "type": "quantitative", "scale": {"domain": [1.4, 2.6], "nice": false, "zero": false}, "axis": {"orient": "right", "offset": -127.5, "values": [1.4,1.5,1.6,1.7,1.8,1.9,2.0,2.1,2.2,2.3,2.4,2.5,2.6], "labels": false, "domain": false, "tickSize": 5, "tickColor": "#000", "tickWidth": 1, "title": null}},
      "color": {"field": "T", "type": "nominal"},
      "shape": {"field": "T", "type": "nominal", "scale": {"domain": ["300 K", "500 K", "700 K"], "range": ["circle", "triangle-up", "square"]}, "legend": null}
     }},
    {"data": {"name": "one"}, "mark": {"type": "text", "text": "p-type", "align": "right", "baseline": "middle", "dx": -3, "fontSize": 12, "font": "Liberation Serif", "color": "#000"}, "encoding": {"x": {"datum": 0, "scale": {"domain": [-1000, 1000], "nice": false, "zero": false}, "axis": null}, "y": {"datum": 2.543, "scale": {"domain": [1.4, 2.6], "nice": false, "zero": false}, "axis": null}}},
    {"data": {"name": "one"}, "mark": {"type": "text", "text": "n-type", "align": "left", "baseline": "middle", "dx": 3, "fontSize": 12, "font": "Liberation Serif", "color": "#000"}, "encoding": {"x": {"datum": 0, "scale": {"domain": [-1000, 1000], "nice": false, "zero": false}, "axis": null}, "y": {"datum": 2.543, "scale": {"domain": [1.4, 2.6], "nice": false, "zero": false}, "axis": null}}},
    {"data": {"name": "one"}, "mark": {"type": "text", "text": "(c)", "align": "left", "baseline": "middle", "dx": -56, "dy": 3, "fontSize": 19, "font": "Liberation Serif", "color": "#000"}, "encoding": {"x": {"datum": -1000, "scale": {"domain": [-1000, 1000], "nice": false, "zero": false}, "axis": null}, "y": {"datum": 2.6, "scale": {"domain": [1.4, 2.6], "nice": false, "zero": false}, "axis": null}}}
   ],
   "resolve": {"axis": {"x": "independent", "y": "independent"}}
  },
  {"width": 251, "height": 191,
   "layer": [
    {"data": {"name": "one"}, "mark": {"type": "rule", "color": "#000", "strokeWidth": 1.3}, "encoding": {"x": {"datum": 0, "scale": {"domain": [-3, 3], "nice": false, "zero": false}, "axis": null}}},
    {"data": {"name": "K"}, "transform": [{"filter": "datum.p == 'd'"}], "mark": {"type": "line", "strokeWidth": 1.2},
     "encoding": {
      "x": {"field": "x", "type": "quantitative", "scale": {"domain": [-3, 3], "nice": false, "zero": false}, "axis": {"orient": "bottom", "values": [-3,-2,-1,0,1,2,3], "labelExpr": "'10' + (abs(datum.value) == 3 ? '²¹' : abs(datum.value) == 2 ? '²⁰' : abs(datum.value) == 1 ? '¹⁹' : '¹⁸')", "labelOverlap": false, "tickSize": -4, "labelPadding": 7, "title": "Carrier concentration (cm⁻³)", "titleFontSize": 13.5, "titlePadding": 3}},
      "y": {"field": "k", "type": "quantitative", "scale": {"domain": [0, 0.8], "nice": false}, "axis": {"values": [0,0.1,0.2,0.3,0.4,0.5,0.6,0.7,0.8], "labelExpr": "round(datum.value*10) % 2 == 0 ? format(datum.value, '.1f') : ''", "labelOverlap": false, "tickSize": {"condition": {"test": "round(datum.value*10) % 2 == 0", "value": -4}, "value": -2}, "labelPadding": 7, "title": "κₑ (W/mK)", "titlePadding": 6}},
      "color": {"field": "T", "type": "nominal", "scale": {"domain": ["300 K", "500 K", "700 K"], "range": ["#ff0000", "#009a00", "#0000ff"]},
       "legend": {"legendX": 189, "legendY": 0, "labelOffset": 4, "encode": {"symbols": {"update": {"shape": {"signal": "datum.value == '300 K' ? 'M-1.9,0H1.9M-0.22,0A0.22,0.22,0,1,1,0.22,0A0.22,0.22,0,1,1,-0.22,0Z' : datum.value == '500 K' ? 'M-1.9,0H1.9M0,-0.27L0.24,0.16L-0.24,0.16Z' : 'M-1.9,0H1.9M-0.2,-0.2H0.2V0.2H-0.2Z'"}, "stroke": {"signal": "datum.value == '300 K' ? '#ff0000' : datum.value == '500 K' ? '#009a00' : '#0000ff'"}, "fill": {"signal": "datum.value == '300 K' ? '#ff0000' : datum.value == '500 K' ? '#009a00' : '#0000ff'"}, "strokeWidth": {"value": 1.2}, "opacity": {"value": 1}}}}}}
     }},
    {"data": {"name": "K"}, "transform": [{"filter": "datum.p == 'd'"}], "mark": {"type": "point", "filled": true, "size": 10, "opacity": 1},
     "encoding": {
      "x": {"field": "x", "type": "quantitative", "scale": {"domain": [-3, 3], "nice": false, "zero": false}, "axis": {"orient": "bottom", "values": [-2.954,-2.903,-2.845,-2.778,-2.699,-2.602,-2.477,-2.301,-1.954,-1.903,-1.845,-1.778,-1.699,-1.602,-1.477,-1.301,-0.954,-0.903,-0.845,-0.778,-0.699,-0.602,-0.477,-0.301,0.301,0.477,0.602,0.699,0.778,0.845,0.903,0.954,1.301,1.477,1.602,1.699,1.778,1.845,1.903,1.954,2.301,2.477,2.602,2.699,2.778,2.845,2.903,2.954], "labels": false, "domain": false, "tickSize": -2, "title": null}},
      "y": {"field": "k", "type": "quantitative", "scale": {"domain": [0, 0.8], "nice": false}, "axis": {"orient": "right", "offset": -128, "values": [0,0.1,0.2,0.3,0.4,0.5,0.6,0.7,0.8], "labels": false, "domain": false, "tickSize": 5, "tickColor": "#000", "tickWidth": 1, "title": null}},
      "color": {"field": "T", "type": "nominal"},
      "shape": {"field": "T", "type": "nominal", "scale": {"domain": ["300 K", "500 K", "700 K"], "range": ["circle", "triangle-up", "square"]}, "legend": null}
     }},
    {"data": {"name": "one"}, "mark": {"type": "text", "text": "p-type", "align": "right", "baseline": "middle", "dx": -3, "fontSize": 12, "font": "Liberation Serif", "color": "#000"}, "encoding": {"x": {"datum": 0, "scale": {"domain": [-3, 3], "nice": false, "zero": false}, "axis": null}, "y": {"datum": 0.767, "scale": {"domain": [0, 0.8], "nice": false}, "axis": null}}},
    {"data": {"name": "one"}, "mark": {"type": "text", "text": "n-type", "align": "left", "baseline": "middle", "dx": 3, "fontSize": 12, "font": "Liberation Serif", "color": "#000"}, "encoding": {"x": {"datum": 0, "scale": {"domain": [-3, 3], "nice": false, "zero": false}, "axis": null}, "y": {"datum": 0.767, "scale": {"domain": [0, 0.8], "nice": false}, "axis": null}}},
    {"data": {"name": "one"}, "mark": {"type": "text", "text": "(d)", "align": "left", "baseline": "middle", "dx": -50, "dy": 3, "fontSize": 19, "font": "Liberation Serif", "color": "#000"}, "encoding": {"x": {"datum": -3, "scale": {"domain": [-3, 3], "nice": false, "zero": false}, "axis": null}, "y": {"datum": 0.8, "scale": {"domain": [0, 0.8], "nice": false}, "axis": null}}}
   ],
   "resolve": {"axis": {"x": "independent", "y": "independent"}}
  }
 ]},
{"spacing": 13, "resolve": {"scale": {"color": "independent"}, "legend": {"color": "independent"}},
 "hconcat": [
  {"width": 250, "height": 190,
   "layer": [
    {"data": {"name": "one"}, "mark": {"type": "rule", "color": "#000", "strokeWidth": 1.3}, "encoding": {"x": {"datum": 0, "scale": {"domain": [-1000, 1000], "nice": false, "zero": false}, "axis": null}}},
    {"data": {"name": "one"}, "mark": {"type": "rule", "strokeWidth": 1.2, "strokeDash": [5, 4]}, "encoding": {"y": {"datum": 2.44, "scale": {"domain": [1.4, 2.6], "nice": false, "zero": false}, "axis": null}, "color": {"datum": "D-limit"}}},
    {"data": {"name": "L"}, "mark": {"type": "line", "strokeWidth": 1.2},
     "encoding": {
      "x": {"field": "S", "type": "quantitative", "scale": {"domain": [-1000, 1000], "nice": false, "zero": false}, "axis": {"orient": "bottom", "values": [-1000,-800,-600,-400,-200,0,200,400,600,800,1000], "labelExpr": "'' + abs(datum.value)", "labelOverlap": false, "tickSize": -4, "labelPadding": 7, "title": "|S| (μV/K)", "titleFontSize": 16, "titlePadding": 2}},
      "y": {"field": "L", "type": "quantitative", "scale": {"domain": [1.4, 2.6], "nice": false, "zero": false}, "axis": {"values": [1.4,1.5,1.6,1.7,1.8,1.9,2.0,2.1,2.2,2.3,2.4,2.5,2.6], "labelExpr": "round(datum.value*10) % 2 == 0 ? format(datum.value, '.1f') : ''", "labelOverlap": false, "tickSize": {"condition": {"test": "round(datum.value*10) % 2 == 0", "value": -4}, "value": -2}, "labelPadding": 7, "title": "L (×10⁻⁸ WΩK⁻²)", "titlePadding": 6}},
      "color": {"field": "T", "type": "nominal", "scale": {"domain": ["300 K", "500 K", "700 K", "D-limit"], "range": ["#ff0000", "#009a00", "#0000ff", "#000000"]},
       "legend": {"legendX": 185, "legendY": 30, "labelOffset": 4, "encode": {"symbols": {"update": {"shape": {"signal": "datum.value == '300 K' ? 'M-1.9,0H1.9M-0.22,0A0.22,0.22,0,1,1,0.22,0A0.22,0.22,0,1,1,-0.22,0Z' : datum.value == '500 K' ? 'M-1.9,0H1.9M0,-0.27L0.24,0.16L-0.24,0.16Z' : datum.value == '700 K' ? 'M-1.9,0H1.9M-0.2,-0.2H0.2V0.2H-0.2Z' : 'M-1.9,0H1.9'"}, "stroke": {"signal": "datum.value == '300 K' ? '#ff0000' : datum.value == '500 K' ? '#009a00' : datum.value == '700 K' ? '#0000ff' : '#000000'"}, "fill": {"signal": "datum.value == '300 K' ? '#ff0000' : datum.value == '500 K' ? '#009a00' : datum.value == '700 K' ? '#0000ff' : '#000000'"}, "strokeDash": {"signal": "datum.value == 'D-limit' ? [5,4] : [1,0]"}, "strokeWidth": {"value": 1.2}, "opacity": {"value": 1}}}}}}
     }},
    {"data": {"name": "L"}, "mark": {"type": "point", "filled": true, "size": 10, "opacity": 1},
     "encoding": {
      "x": {"field": "S", "type": "quantitative", "scale": {"domain": [-1000, 1000], "nice": false, "zero": false}, "axis": {"orient": "bottom", "values": [-900,-700,-500,-300,-100,100,300,500,700,900], "labels": false, "domain": false, "tickSize": -2, "title": null}},
      "y": {"field": "L", "type": "quantitative", "scale": {"domain": [1.4, 2.6], "nice": false, "zero": false}, "axis": {"orient": "right", "offset": -127.5, "values": [1.4,1.5,1.6,1.7,1.8,1.9,2.0,2.1,2.2,2.3,2.4,2.5,2.6], "labels": false, "domain": false, "tickSize": 5, "tickColor": "#000", "tickWidth": 1, "title": null}},
      "color": {"field": "T", "type": "nominal"},
      "shape": {"field": "T", "type": "nominal", "scale": {"domain": ["300 K", "500 K", "700 K"], "range": ["circle", "triangle-up", "square"]}, "legend": null}
     }},
    {"data": {"name": "one"}, "mark": {"type": "text", "text": "p-type", "align": "right", "baseline": "middle", "dx": -3, "fontSize": 12, "font": "Liberation Serif", "color": "#000"}, "encoding": {"x": {"datum": 0, "scale": {"domain": [-1000, 1000], "nice": false, "zero": false}, "axis": null}, "y": {"datum": 2.55, "scale": {"domain": [1.4, 2.6], "nice": false, "zero": false}, "axis": null}}},
    {"data": {"name": "one"}, "mark": {"type": "text", "text": "n-type", "align": "left", "baseline": "middle", "dx": 3, "fontSize": 12, "font": "Liberation Serif", "color": "#000"}, "encoding": {"x": {"datum": 0, "scale": {"domain": [-1000, 1000], "nice": false, "zero": false}, "axis": null}, "y": {"datum": 2.55, "scale": {"domain": [1.4, 2.6], "nice": false, "zero": false}, "axis": null}}},
    {"data": {"name": "one"}, "mark": {"type": "text", "text": "(e)", "align": "left", "baseline": "middle", "dx": -55, "dy": 2, "fontSize": 19, "font": "Liberation Serif", "color": "#000"}, "encoding": {"x": {"datum": -1000, "scale": {"domain": [-1000, 1000], "nice": false, "zero": false}, "axis": null}, "y": {"datum": 2.6, "scale": {"domain": [1.4, 2.6], "nice": false, "zero": false}, "axis": null}}}
   ],
   "resolve": {"axis": {"x": "independent", "y": "independent"}}
  },
  {"width": 251, "height": 190,
   "layer": [
    {"data": {"name": "one"}, "mark": {"type": "rule", "color": "#000", "strokeWidth": 1.3}, "encoding": {"x": {"datum": 0, "scale": {"domain": [-3, 3], "nice": false, "zero": false}, "axis": null}}},
    {"data": {"name": "K"}, "transform": [{"filter": "datum.p == 'f'"}], "mark": {"type": "line", "strokeWidth": 1.2},
     "encoding": {
      "x": {"field": "x", "type": "quantitative", "scale": {"domain": [-3, 3], "nice": false, "zero": false}, "axis": {"orient": "bottom", "values": [-3,-2,-1,0,1,2,3], "labelExpr": "'10' + (abs(datum.value) == 3 ? '²¹' : abs(datum.value) == 2 ? '²⁰' : abs(datum.value) == 1 ? '¹⁹' : '¹⁸')", "labelOverlap": false, "tickSize": -4, "labelPadding": 7, "title": "Carrier concentration (cm⁻³)", "titleFontSize": 13.5, "titlePadding": 3}},
      "y": {"field": "k", "type": "quantitative", "scale": {"domain": [0, 0.8], "nice": false}, "axis": {"values": [0,0.1,0.2,0.3,0.4,0.5,0.6,0.7,0.8], "labelExpr": "round(datum.value*10) % 2 == 0 ? format(datum.value, '.1f') : ''", "labelOverlap": false, "tickSize": {"condition": {"test": "round(datum.value*10) % 2 == 0", "value": -4}, "value": -2}, "labelPadding": 7, "title": "κₑ (W/mK)", "titlePadding": 6}},
      "color": {"field": "T", "type": "nominal", "scale": {"domain": ["300 K", "500 K", "700 K"], "range": ["#ff0000", "#009a00", "#0000ff"]},
       "legend": {"legendX": 190, "legendY": 2, "labelOffset": 4, "encode": {"symbols": {"update": {"shape": {"signal": "datum.value == '300 K' ? 'M-1.9,0H1.9M-0.22,0A0.22,0.22,0,1,1,0.22,0A0.22,0.22,0,1,1,-0.22,0Z' : datum.value == '500 K' ? 'M-1.9,0H1.9M0,-0.27L0.24,0.16L-0.24,0.16Z' : 'M-1.9,0H1.9M-0.2,-0.2H0.2V0.2H-0.2Z'"}, "stroke": {"signal": "datum.value == '300 K' ? '#ff0000' : datum.value == '500 K' ? '#009a00' : '#0000ff'"}, "fill": {"signal": "datum.value == '300 K' ? '#ff0000' : datum.value == '500 K' ? '#009a00' : '#0000ff'"}, "strokeWidth": {"value": 1.2}, "opacity": {"value": 1}}}}}}
     }},
    {"data": {"name": "K"}, "transform": [{"filter": "datum.p == 'f'"}], "mark": {"type": "point", "filled": true, "size": 10, "opacity": 1},
     "encoding": {
      "x": {"field": "x", "type": "quantitative", "scale": {"domain": [-3, 3], "nice": false, "zero": false}, "axis": {"orient": "bottom", "values": [-2.954,-2.903,-2.845,-2.778,-2.699,-2.602,-2.477,-2.301,-1.954,-1.903,-1.845,-1.778,-1.699,-1.602,-1.477,-1.301,-0.954,-0.903,-0.845,-0.778,-0.699,-0.602,-0.477,-0.301,0.301,0.477,0.602,0.699,0.778,0.845,0.903,0.954,1.301,1.477,1.602,1.699,1.778,1.845,1.903,1.954,2.301,2.477,2.602,2.699,2.778,2.845,2.903,2.954], "labels": false, "domain": false, "tickSize": -2, "title": null}},
      "y": {"field": "k", "type": "quantitative", "scale": {"domain": [0, 0.8], "nice": false}, "axis": {"orient": "right", "offset": -128, "values": [0,0.1,0.2,0.3,0.4,0.5,0.6,0.7,0.8], "labels": false, "domain": false, "tickSize": 5, "tickColor": "#000", "tickWidth": 1, "title": null}},
      "color": {"field": "T", "type": "nominal"},
      "shape": {"field": "T", "type": "nominal", "scale": {"domain": ["300 K", "500 K", "700 K"], "range": ["circle", "triangle-up", "square"]}, "legend": null}
     }},
    {"data": {"name": "one"}, "mark": {"type": "text", "text": "p-type", "align": "right", "baseline": "middle", "dx": -3, "fontSize": 12, "font": "Liberation Serif", "color": "#000"}, "encoding": {"x": {"datum": 0, "scale": {"domain": [-3, 3], "nice": false, "zero": false}, "axis": null}, "y": {"datum": 0.762, "scale": {"domain": [0, 0.8], "nice": false}, "axis": null}}},
    {"data": {"name": "one"}, "mark": {"type": "text", "text": "n-type", "align": "left", "baseline": "middle", "dx": 3, "fontSize": 12, "font": "Liberation Serif", "color": "#000"}, "encoding": {"x": {"datum": 0, "scale": {"domain": [-3, 3], "nice": false, "zero": false}, "axis": null}, "y": {"datum": 0.762, "scale": {"domain": [0, 0.8], "nice": false}, "axis": null}}},
    {"data": {"name": "one"}, "mark": {"type": "text", "text": "(f)", "align": "left", "baseline": "middle", "dx": -50, "dy": 4, "fontSize": 19, "font": "Liberation Serif", "color": "#000"}, "encoding": {"x": {"datum": -3, "scale": {"domain": [-3, 3], "nice": false, "zero": false}, "axis": null}, "y": {"datum": 0.8, "scale": {"domain": [0, 0.8], "nice": false}, "axis": null}}}
   ],
   "resolve": {"axis": {"x": "independent", "y": "independent"}}
  }
 ]}
]
}
